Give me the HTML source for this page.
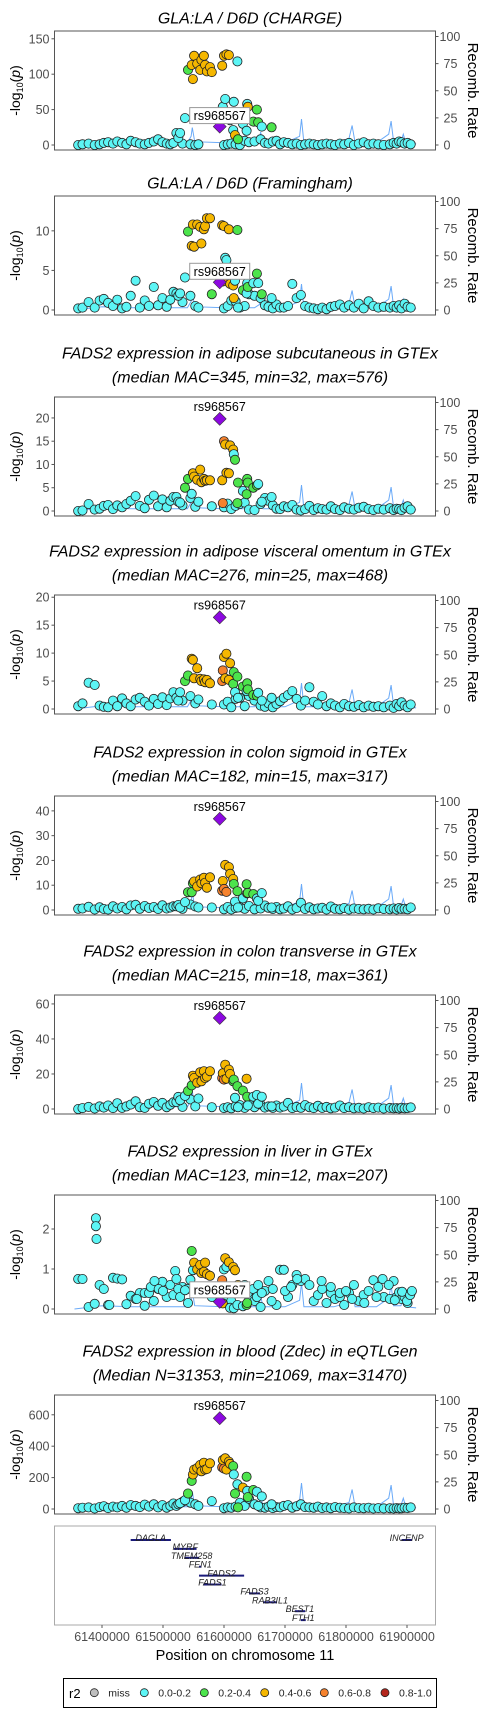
<!DOCTYPE html>
<html><head><meta charset="utf-8">
<style>
html,body{margin:0;padding:0;background:#fff;}
svg{display:block;font-family:"Liberation Sans",Arial,sans-serif;}
</style></head>
<body>
<svg id="chart" width="500" height="1714" viewBox="0 0 500 1714" xmlns="http://www.w3.org/2000/svg"></svg>
<script>
// ---------- data ----------
const titles = [
 ["GLA:LA / D6D (CHARGE)"],
 ["GLA:LA / D6D (Framingham)"],
 ["FADS2 expression in adipose subcutaneous in GTEx","(median MAC=345, min=32, max=576)"],
 ["FADS2 expression in adipose visceral omentum in GTEx","(median MAC=276, min=25, max=468)"],
 ["FADS2 expression in colon sigmoid in GTEx","(median MAC=182, min=15, max=317)"],
 ["FADS2 expression in colon transverse in GTEx","(median MAC=215, min=18, max=361)"],
 ["FADS2 expression in liver in GTEx","(median MAC=123, min=12, max=207)"],
 ["FADS2 expression in blood (Zdec) in eQTLGen","(Median N=31353, min=21069, max=31470)"]
];
const yTopVals = [161, 14.4, 24.5, 20.4, 46, 65.1, 2.85, 726];
const yTicks = [[0,50,100,150],[0,5,10],[0,5,10,15,20],[0,5,10,15,20],[0,10,20,30,40],[0,20,40,60],[0,1,2],[0,200,400,600]];
const recTicks = [0,25,50,75,100];
const xTicks = [61400000,61500000,61600000,61700000,61800000,61900000];
const leadPos = 61593;
const leadVals = [26, 3.5, 19.8, 16.4, 36.8, 52, 0.18, 578];
const leadBoxed = [true, true, false, false, false, false, true, false];

const bgPos = [61361,61368,61378,61388,61396,61403,61410,61418,61425,61433,61440,61447,61455,61462,61470,61477,61485,61492,61499,61506,61512,61517,61532,61545,61553,61558,
 61600,61606,61612,61619,61626,61634,61641,61650,61660,61667,61673,61680,61686,61692,61698,61705,61712,61719,61726,61733,61740,61747,61754,61761,61768,61775,61782,61790,61797,61805,61813,61821,61829,61837,61845,61853,61862,61872,61878,61883,61887,61891,61896,61901,61906];
const bgVals = [
 [0,1,2,0,1,3,4,2,5,3,1,6,4,2,1,3,5,8,4,2,1,3,2,1,0,1, 0,1,2,1,0,6,4,5,8,3,2,5,6,1,4,3,1,2,0,1,2,1,0,1,2,1,0,2,1,3,0,2,4,1,2,1,0,1,3,2,5,4,2,3,1],
 [0.2,0.3,1.0,0.3,1.2,1.4,0.9,0.5,1.3,0.2,0.4,1.8,3.7,0.3,1.2,0.5,2.9,0.6,1.5,0.4,1.3,2.3,1.0,1.8,0.5,0.3, 0.2,0.5,1.2,1.1,0.3,0.5,2.0,1.8,1.5,0.6,0.4,0.2,0.7,0.3,0.3,0.5,3.3,1.5,1.9,0.5,0.3,0.2,0.1,0.3,0.1,0.4,0.5,0.7,0.3,0.6,0.3,0.8,0.2,1.1,0.5,0.3,0.4,0.3,0.5,0.3,0.6,0.2,0.8,0.4,0.3],
 [0,0.1,1.5,0.3,0.5,1.1,1.3,0.4,1.2,0.8,1.5,2.2,3.2,1.1,0.6,2.4,3.3,1.0,2.5,0.8,2.2,3.0,1.2,2.8,0.9,2.0, 0.8,1.6,0.4,1.1,1.5,1.8,0.3,0.2,1.5,2.8,2.2,1.2,0.5,0.4,1.0,0.8,1.3,0.3,0.1,0.4,1.1,0.2,0.6,0.4,0.3,1.0,0.4,0.2,0.8,0.5,0.3,0.7,0.9,0.4,0.2,0.5,0.3,0.6,0.2,0.5,0.4,0.2,0.7,1.0,0.3],
 [0.5,1.0,4.7,4.3,0.6,0.4,0.3,1.5,0.5,1.9,1.0,0.5,1.7,2.0,1.3,0.6,1.8,0.9,2.1,0.7,1.9,3.0,1.5,2.3,1.0,1.7, 0.8,1.3,0.3,1.8,2.0,0.5,2.3,1.5,0.6,0.4,1.0,0.3,0.9,1.4,2.0,2.5,3.2,1.8,0.6,1.5,3.9,1.3,0.8,2.3,0.5,1.0,0.6,0.3,0.9,0.5,0.4,0.7,0.3,0.6,0.4,0.5,0.3,0.6,0.2,0.9,0.5,1.2,0.6,0.3,0.8],
 [0.5,0.6,1.3,0.2,1.1,0.4,0.2,1.5,0.6,1.2,0.3,1.8,2.1,0.5,1.6,0.8,1.2,0.4,1.9,0.6,1.0,1.5,0.5,2.2,1.4,1.0, 0.3,1.2,0.2,0.8,1.1,0.5,1.6,0.3,0.6,1.8,0.9,0.4,1.2,0.3,0.6,1.5,0.2,0.8,2.9,0.4,1.1,0.3,0.6,0.9,0.2,1.4,0.5,0.3,0.8,0.2,0.6,0.4,0.3,0.5,0.2,0.7,0.4,0.3,0.6,0.2,0.8,0.4,0.5,0.3,1.0],
 [0,0.5,1.2,0.3,1.5,0.8,2.0,0.5,3.3,0.6,1.5,2.5,4.4,1.0,0.6,3.0,4.0,1.8,3.5,1.0,2.4,3.8,1.2,5.5,1.5,6.0, 0.5,1.0,0.4,1.6,2.2,0.6,3.2,1.0,2.5,0.8,1.5,0.6,2.0,0.8,1.4,3.5,0.5,1.2,0.7,2.2,1.0,0.5,1.8,0.6,1.2,0.4,0.8,2.0,0.5,1.0,0.4,0.7,0.3,1.0,0.5,0.8,0.3,0.6,0.4,0.5,0.3,0.7,0.4,0.5,0.9],
 [0.75,0.75,0.05,0.13,0.6,0.5,0.1,0.78,0.76,0.74,0.12,0.33,0.25,0.4,0.4,0.4,0.2,0.5,0.68,0.3,0.6,0.35,0.55,0.73,0.55,0.4, 0.3,0.4,0.2,0.55,0.5,0.6,0.3,0.2,0.05,0.45,0.7,0.5,0.1,0.98,0.98,0.3,0.6,0.85,0.7,0.75,0.6,0.2,0.35,0.5,0.15,0.4,0.25,0.3,0.1,0.4,0.6,0.2,0.35,0.45,0.72,0.55,0.3,0.25,0.7,0.3,0.42,0.25,0.3,0.15,0.4],
 [5,8,10,3,12,18,6,15,10,20,8,25,20,12,28,15,30,10,25,8,20,35,45,40,30,20, 5,10,8,15,40,20,65,30,10,8,15,6,12,10,20,25,8,18,30,12,10,8,15,6,10,5,12,8,6,4,10,6,5,8,3,6,4,5,3,6,4,5,8,6,10]
];
const livExtraPos = [61390,61390,61391,61480,61486,61493,61500,61457,61470,61520,61540,61700,61710,61720,61760,61775,61790,61800,61810,61830,61850,61860,61870,61880,61892,61900,61905,61908,61412];
const livExtraVals = [2.27,2.07,1.75,0.55,0.7,0.5,0.45,0.25,0.08,0.95,0.5,0.45,0.55,0.75,0.7,0.55,0.4,0.45,0.25,0.15,0.3,0.75,0.6,0.22,0.43,0.2,0.35,0.45,0.1];

const pkPos = [61522,61525,61528,61536,61541,61547,61549,61551,61556,61561,61563,61567,61569,61572,61577,61580,61597,61598,61600,61602,61604,61608,61610,61615,61616,61618,61622,61623,61631,61637,61638,61639,61648,61654,61656,61662,61678];
const pkVals = [
 [17,10,17,38,106,113,93,126,115,106,120,126,113,104,110,103,112,54,126,65,128,127,35,21,61,14,118,8,30,20,58,54,33,50,32,26,25],
 [2.1,1.8,2.1,4.1,9.9,8.1,10.8,8.0,10.8,10.5,8.4,10.2,10.6,11.6,11.6,2.0,10.7,3.6,10.6,6.6,6.3,10.2,3.3,3.1,1.5,3.7,10.1,0.3,2.5,2.1,3.4,2.9,3.4,4.6,3.4,2.0,1.5],
 [3.0,2.0,1.8,5.0,6.9,3.7,8.1,7.4,6.7,8.9,6.2,6.9,6.5,6.6,6.6,1.0,6.6,1.7,15,14.3,8.2,8.1,14.1,13.2,12.2,11.0,1.7,6.1,4.3,3.6,6.9,6.1,5.0,5.5,5.8,2.0,3.0],
 [2.0,1.5,3.0,5.0,6.0,9.0,8.8,5.5,7.3,5.4,5.0,5.3,4.8,5.2,4.6,0.8,5.0,6.9,9.3,5.5,9.9,5.2,8.2,4.5,6.6,3.0,5.8,2.0,4.0,3.2,4.6,3.5,2.5,2.4,2.9,1.5,2.0],
 [1.5,2.0,1.0,3.2,7.2,7.2,10.8,11.5,9.5,12.3,10.8,13.0,11.0,9.0,13.2,1.0,7.8,11.7,8.5,18.2,7.3,17.3,14.6,12.5,10.5,3.4,7.6,1.0,4.7,10.4,6.7,6.9,6.4,4.7,3.7,6.8,1.0],
 [4.0,6.9,5.0,7.5,10.3,13.5,19,17.7,15,21,15.8,21.6,17.7,18.5,21.6,1.0,17.7,20.4,16.8,25.3,17.3,22.5,20,15.8,16.8,6.4,13,1.0,10.5,17.3,7.0,2.0,7.0,8.0,3.0,7.0,1.5],
 [0.75,0.5,0.3,0.47,0.15,1.45,0.97,1.16,0.99,1.1,0.9,0.93,1.16,0.87,0.83,0.3,0.72,0.14,0.99,1.27,1.05,1.17,0.03,1.05,0.02,0.97,0.1,0.6,0.07,0.1,0.15,0.4,0.5,0.3,0.6,0.4,0.2],
 [20,30,37,56,99,179,220,251,261,280,240,295,251,255,291,50,265,312,257,323,251,302,287,273,220,98,157,10,136,206,115,76,121,110,20,80,30]
];
const pkLD = [
 "1111233333333333313133111312111322212111",
 "1111233333333332343113333121211212121211",
 "1112213333333331344333331222122222111",
 "1112233333333331443333322121212222111",
 "1111222333333331434343332121123221111",
 "1111223333333331434333322121232111111",
 "1111121333333331431313131313122111111",
 "1111223333333331434333321212321221111"
];
const recPos = [61355,61400,61450,61500,61540,61546,61548,61552,61600,61650,61658,61660,61664,61700,61724,61727,61731,61780,61805,61810,61815,61850,61870,61874,61878,61890,61894,61898,61915];
const recRate = [0,3,2,2,2,8,16,3,2,2,5,12,2,2,8,24,2,2,6,18,2,2,10,22,3,3,10,2,1];

const genes = ["DAGLA","MYRF","TMEM258","FEN1","FADS2","FADS1","FADS3","RAB3IL1","BEST1","FTH1","INCENP"];
const geneStart = [61447,61518,61535,61559,61559,61566,61641,61664,61716,61726,61891];
const geneEnd = [61513,61555,61559,61563,61633,61596,61659,61687,61733,61734,61908];
const geneRow = [0,1,2,3,4,5,6,7,8,9,0];

const legendLabels = ["miss","0.0-0.2","0.2-0.4","0.4-0.6","0.6-0.8","0.8-1.0"];
const ldColors = ["#BEBEBE","#5CF5F5","#4CE44C","#F5B700","#F5822D","#B4261C"];

// ---------- layout ----------
const NS = "http://www.w3.org/2000/svg";
const svg = document.getElementById("chart");
const X0 = 54.5, X1 = 435.5;
const frameTops = [31,196,397,595,796,995,1195,1395];
const FH = 119, ZERO_OFF = 114, REC_TOP_OFF = 5.5;
function xs(kb){ return 102 + (kb - 61400) * 0.61; }
function mk(tag, attrs, parent){
  const e = document.createElementNS(NS, tag);
  for (const k in attrs) e.setAttribute(k, attrs[k]);
  (parent || svg).appendChild(e);
  return e;
}
function txt(s, attrs, parent){ const e = mk("text", attrs, parent); e.textContent = s; return e; }

frameTops.forEach((top, p) => {
  const g = mk("g", {});
  
  
  const y0 = top + ZERO_OFF;
  const ys = v => y0 - v * (ZERO_OFF / yTopVals[p]);
  const yr = r => y0 - r * ((ZERO_OFF - REC_TOP_OFF) / 100);
  // titles
  const tl = titles[p];
  const tY = tl.length === 1 ? [top - 13] : [top - 44, top - 20];
  tl.forEach((s, i) => {
    const t = txt(s, {x:250, y:tY[i]+5.5, "text-anchor":"middle", "font-size":"16", "font-style":"italic", fill:"#000"}, g);
    
    
  });
  // frame
  const fr = mk("rect", {x:X0, y:top, width:X1-X0, height:FH, fill:"#fff", stroke:"#555", "stroke-width":"1"}, g);
  
  
  // left ticks
  yTicks[p].forEach(v => {
    const y = ys(v);
    mk("line", {x1:X0-3, x2:X0, y1:y, y2:y, stroke:"#555"}, g);
    const t = txt(String(v), {x:X0-5, y:y+4.5, "text-anchor":"end", "font-size":"12.5", fill:"#4d4d4d"}, g);
    
    
  });
  // right ticks
  recTicks.forEach(v => {
    const y = yr(v);
    mk("line", {x1:X1, x2:X1+3, y1:y, y2:y, stroke:"#555"}, g);
    const t = txt(String(v), {x:X1+(v===100?4:8), y:y+4.5, "font-size":"12.5", fill:"#4d4d4d"}, g);
    
    
  });
  // axis titles
  const cy = top + FH/2;
  const yl = txt("", {x:0, y:0, transform:`translate(20 ${cy}) rotate(-90)`, "text-anchor":"middle", "font-size":"14", fill:"#000"}, g);
  yl.innerHTML = '-log<tspan font-size="9" dy="3">10</tspan><tspan dy="-3">(</tspan><tspan font-style="italic">p</tspan>)';
  
  
  const rl = txt("Recomb. Rate", {x:0, y:0, transform:`translate(468 ${cy}) rotate(90)`, "text-anchor":"middle", "font-size":"15", fill:"#000"}, g);
  
  
  // recomb line
  const d = recPos.map((x, i) => (i ? "L" : "M") + xs(x).toFixed(1) + " " + yr(recRate[i]).toFixed(1)).join(" ");
  const rline = mk("path", {d:d, fill:"none", stroke:"#6AAAF8", "stroke-width":"1"}, g);
  
  
  // points
  function pt(x, v, cls){
    const c = mk("circle", {cx:xs(x).toFixed(1), cy:ys(v).toFixed(1), r:4.6, fill:ldColors[cls], stroke:"#222", "stroke-width":"0.8"}, g);
    
    
  }
  const bv = bgVals[p];
  for (let i = 0; i < Math.min(bgPos.length, bv.length); i++) pt(bgPos[i], bv[i], 1);
  if (p === 6) for (let i = 0; i < livExtraPos.length; i++) pt(livExtraPos[i], livExtraVals[i], 1);
  const pv = pkVals[p], ld = pkLD[p];
  for (let i = 0; i < Math.min(pkPos.length, pv.length); i++) pt(pkPos[i], pv[i], +(ld[i] || 1));
  // lead SNP
  const lx = xs(leadPos), ly = ys(leadVals[p]);
  const dm = mk("path", {d:`M${lx} ${ly-6.5} L${lx+6.5} ${ly} L${lx} ${ly+6.5} L${lx-6.5} ${ly} Z`, fill:"#8C08E0", stroke:"#333", "stroke-width":"0.6"}, g);
  
  
  if (leadBoxed[p]) {
    const by = p === 6 ? ly - 12 : ly - 11;
    const br = mk("rect", {x:lx-30, y:by-8, width:60, height:16, fill:"#fff", stroke:"#999", "stroke-width":"1"}, g);
    
    
    const t = txt("rs968567", {x:lx, y:by+4.5, "text-anchor":"middle", "font-size":"12.5", fill:"#000"}, g);
    
    
  } else {
    const t = txt("rs968567", {x:lx, y:ly-8, "text-anchor":"middle", "font-size":"12.5", fill:"#000"}, g);
    
    
  }
});

// ---------- gene track ----------
const gt = mk("g", {});


const gfr = mk("rect", {x:X0, y:1526, width:X1-X0, height:99, fill:"#fff", stroke:"#aaa", "stroke-width":"1"}, gt);


const rowY = r => 1540 + r * 8.9;
genes.forEach((name, i) => {
  const y = rowY(geneRow[i]);
  const ln = mk("line", {x1:xs(geneStart[i]), x2:xs(geneEnd[i]), y1:y, y2:y, stroke:"#1a1a7a", "stroke-width":"2"}, gt);
  
  
  const t = txt(name, {x:(xs(geneStart[i]) + xs(geneEnd[i])) / 2, y:y+1, "text-anchor":"middle", "font-size":"9", "font-style":"italic", fill:"#222"}, gt);
  
  
});
xTicks.forEach(v => {
  const x = xs(v / 1000);
  mk("line", {x1:x, x2:x, y1:1625, y2:1628, stroke:"#555"}, gt);
  const t = txt(String(v), {x:x, y:1641, "text-anchor":"middle", "font-size":"12.5", fill:"#4d4d4d"}, gt);
  
  
});
const xt = txt("Position on chromosome 11", {x:245, y:1660, "text-anchor":"middle", "font-size":"14.5", fill:"#000"});



// ---------- legend ----------
const lg = mk("g", {});


mk("rect", {x:63.5, y:1678.5, width:373, height:29, fill:"#fff", stroke:"#000", "stroke-width":"1"}, lg);
const r2 = txt("r2", {x:69, y:1698, "font-size":"13", fill:"#000"}, lg);


const legX = [94.3, 144.3, 204.3, 264.7, 324.3, 385];
legendLabels.forEach((s, i) => {
  const c = mk("circle", {cx:legX[i], cy:1692.7, r:4, fill:ldColors[i], stroke:"#222", "stroke-width":"0.8"}, lg);
  
  
  const t = txt(s, {x:legX[i] + 14, y:1696.5, "font-size":"10.5", fill:"#222"}, lg);
  
  
});
</script>
</body></html>
